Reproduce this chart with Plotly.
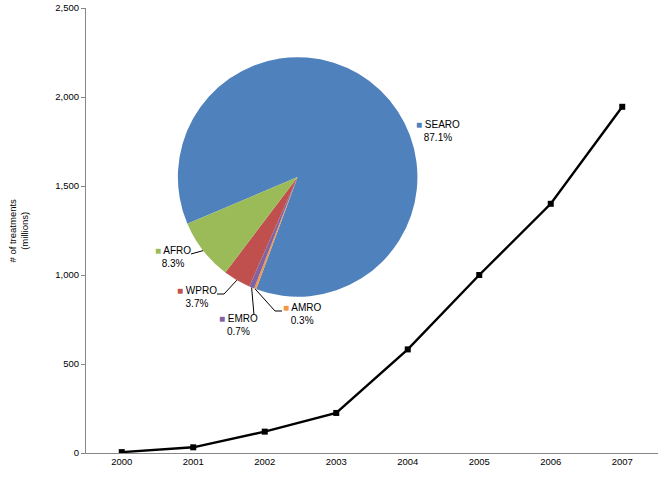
import math
import plotly.graph_objects as go

# ---------------- data ----------------
years = ["2000", "2001", "2002", "2003", "2004", "2005", "2006", "2007"]
treatments = [5, 32, 120, 225, 582, 1000, 1400, 1945]
y_ticks = [0, 500, 1000, 1500, 2000, 2500]

regions = ["SEARO", "AMRO", "EMRO", "WPRO", "AFRO"]
shares = [87.1, 0.3, 0.7, 3.7, 8.3]
region_colors = ["#4F81BD", "#F79646", "#8064A2", "#C0504D", "#9BBB59"]

# ---------------- layout geometry ----------------
W, H = 661, 493
ML, MR, MT, MB = 86, 3, 8, 40
PW, PH = W - ML - MR, H - MT - MB
FONT = "Arial, Liberation Sans, sans-serif"
PIE_ROT = -113
pie_dx = [0.1606, 0.5794]
pie_dy = [0.3506, 0.8899]


def to_paper(xp, yp):
    return (xp - ML) / PW, (H - MB - yp) / PH


fig = go.Figure()

fig.add_trace(go.Scatter(
    x=years, y=treatments, mode="lines+markers",
    line=dict(color="black", width=2.4),
    marker=dict(symbol="square", size=6, color="black"),
    showlegend=False, hoverinfo="x+y",
))

fig.add_trace(go.Pie(
    labels=regions, values=shares, sort=False, direction="clockwise",
    rotation=PIE_ROT, marker=dict(colors=region_colors, line=dict(width=0)),
    textinfo="none", domain=dict(x=pie_dx, y=pie_dy), showlegend=False,
    hoverinfo="label+percent",
))

# pie geometry (pixels) to anchor leader lines on slice mid-angles
cx = ML + PW * (pie_dx[0] + pie_dx[1]) / 2
cy = H - MB - PH * (pie_dy[0] + pie_dy[1]) / 2
rad = min(PW * (pie_dx[1] - pie_dx[0]), PH * (pie_dy[1] - pie_dy[0])) / 2
total = sum(shares)
mid_pts = {}
cum = 0
for reg, s in zip(regions, shares):
    ang = math.radians(PIE_ROT + 360 * (cum + s / 2) / total)
    mid_pts[reg] = (cx + rad * math.sin(ang), cy - rad * math.cos(ang))
    cum += s

# label block centres (pixels) and leader-line bends (pixels)
label_pos = {
    "SEARO": (438, 130.5),
    "AFRO": (173, 256.5),
    "WPRO": (197, 296.5),
    "EMRO": (238, 324.5),
    "AMRO": (302, 313.5),
}
leader_path = {
    "AFRO": [(191, 254)],
    "WPRO": [(217, 294), (224, 294)],
    "EMRO": [(254, 315)],
    "AMRO": [(282, 311), (275, 311)],
}

for reg, s, col in zip(regions, shares, region_colors):
    lx, ly = label_pos[reg]
    px, py = to_paper(lx, ly)
    fig.add_annotation(
        x=px, y=py, xref="paper", yref="paper", showarrow=False,
        xanchor="center", yanchor="middle", align="center",
        text=f"<span style='color:{col};font-size:10px'>■</span> {reg}<br>{s:.1f}%",
        font=dict(family=FONT, size=10, color="black"),
    )
    if reg in leader_path:
        pts = leader_path[reg] + [mid_pts[reg]]
        path = ""
        for i, (x, y) in enumerate(pts):
            qx, qy = to_paper(x, y)
            path += ("M" if i == 0 else " L") + f" {qx:.5f},{qy:.5f}"
        fig.add_shape(type="path", path=path, xref="paper", yref="paper",
                      line=dict(color="black", width=1))

# y-axis title
tx, ty = to_paper(18, (MT + H - MB) / 2)
fig.add_annotation(
    x=tx, y=0.5, xref="paper", yref="paper", showarrow=False, textangle=-90,
    xanchor="center", yanchor="middle",
    text="# of treatments<br>(millions)", align="center",
    font=dict(family=FONT, size=9.5, color="black"),
)

fig.update_layout(
    width=W, height=H, margin=dict(l=ML, r=MR, t=MT, b=MB),
    paper_bgcolor="white", plot_bgcolor="white",
    font=dict(family=FONT, size=9.5, color="black"),
    xaxis=dict(type="category", range=[-0.5, 7.5], showgrid=False,
               showline=True, linecolor="#868686", linewidth=1,
               ticks="", zeroline=False, tickfont=dict(size=9.5)),
    yaxis=dict(range=[0, 2500], tickvals=y_ticks, tickformat=",",
               showgrid=False, showline=True, linecolor="#868686",
               linewidth=1, ticks="outside", ticklen=4,
               tickcolor="#868686", zeroline=False, tickfont=dict(size=9.5)),
)

fig.write_html(
    "out.html",
    config={"displayModeBar": False},
    post_script="document.body.style.margin='0';document.body.style.overflow='hidden';",
)
